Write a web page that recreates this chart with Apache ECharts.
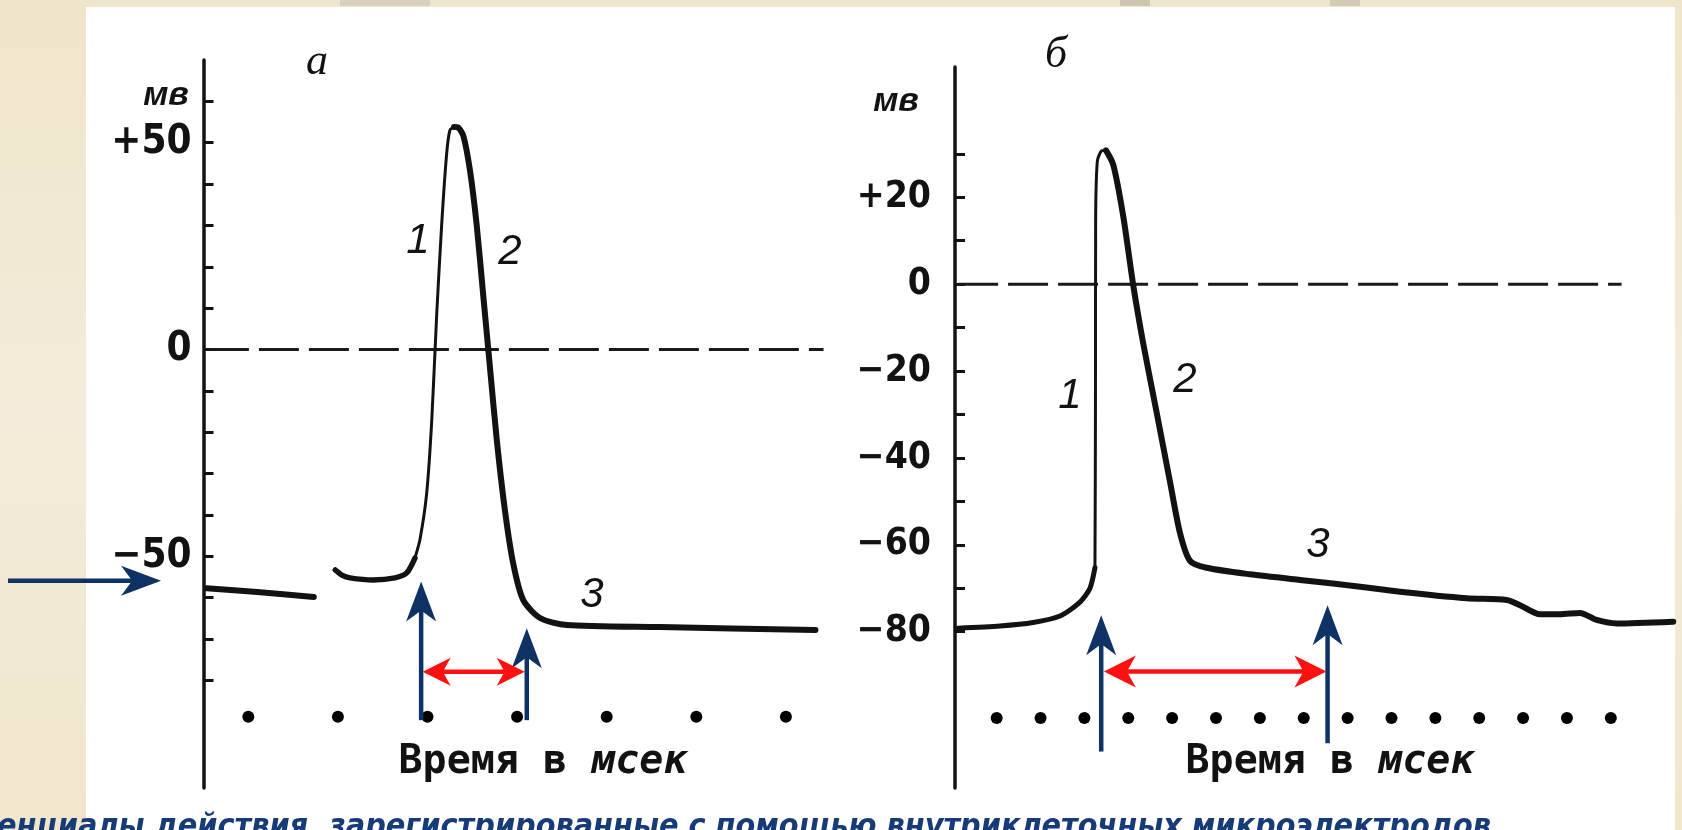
<!DOCTYPE html>
<html><head><meta charset="utf-8">
<script src="https://cdn.jsdelivr.net/npm/echarts@6/dist/echarts.min.js"></script>
<style>html,body{margin:0;padding:0;background:#efe6cd;}#c{width:1682px;height:830px;}</style>
</head><body><div id="c"></div>
<script>
// ---------- data (time in ms-dot units, voltage in mV) ----------
const ticksA = [60, 50, 40, 30, 20, 10, 0, -10, -20, -30, -40, -50, -60, -70, -80];
const labelsA = [50, 0, -50];
const ticksB = [30, 20, 10, 0, -10, -20, -30, -40, -50, -60, -70, -80];
const labelsB = [20, 0, -20, -40, -60, -80];

const zeroA = [[0.06, 0], [6.92, 0]];
const zeroB = [[0.12, 0], [15.245, 0]];

// panel a
const restA = [[0.033, -57.7], [0.6, -58.6], [1.231, -59.8]];
const baseA = [[1.471, -53.3], [1.55, -54.6], [1.635, -55.2], [1.892, -55.7], [2.137, -55.2], [2.268, -54.0], [2.360, -50.4]];
const riseA = [[2.360, -50.4], [2.417, -45.8], [2.491, -34.7], [2.547, -17.3], [2.603, 8.6], [2.658, 30.1], [2.714, 47.4], [2.751, 53.1], [2.796, 53.8]];
const fallA = [[2.796, 53.8], [2.840, 53.7], [2.900, 51.7], [2.975, 43.2], [3.049, 30.1], [3.123, 12.9], [3.198, -4.5], [3.272, -21.6], [3.365, -39.0], [3.458, -51.9], [3.569, -60.6], [3.756, -64.9], [4.054, -66.6], [5.095, -67.1], [6.830, -67.8]];
const dotsA = [[0.5, -88.8], [1.5, -88.8], [2.5, -88.8], [3.5, -88.8], [4.5, -88.8], [5.5, -88.8], [6.5, -88.8]];
const blueArrowsA = [[-2.182, -55.9, -0.474, -55.9], [2.429, -89.6, 2.429, -56.1], [3.608, -89.6, 3.608, -67.4]];
const redArrowsA = [[2.446, -77.9, 3.585, -77.9]];

// panel b
const baseB = [[0.118, -79.2], [1.076, -78.7], [1.828, -77.9], [2.443, -76.4], [2.899, -73.2], [3.127, -70.0], [3.240, -65.3]];
const riseB = [[3.240, -65.3], [3.248, -45.1], [3.252, -25.6], [3.256, 14.1], [3.294, 28.3], [3.394, 30.7], [3.492, 30.8]];
const fallB = [[3.492, 30.8], [3.658, 27.5], [3.886, 15.6], [4.114, -0.3], [4.342, -13.7], [4.648, -29.6], [4.951, -45.5], [5.179, -57.3], [5.407, -63.7], [5.787, -65.3], [6.774, -66.8], [7.914, -68.1], [8.666, -68.9], [10.194, -70.8], [11.714, -72.3], [12.626, -72.7], [12.929, -73.9], [13.385, -76.0], [13.841, -76.0], [14.297, -75.7], [14.677, -77.3], [15.133, -78.1], [16.423, -77.7]];
const dotsB = [[1, -99.9], [2, -99.9], [3, -99.9], [4, -99.9], [5, -99.9], [6, -99.9], [7, -99.9], [8, -99.9], [9, -99.9], [10, -99.9], [11, -99.9], [12, -99.9], [13, -99.9], [14, -99.9], [15, -99.9]];
const blueArrowsB = [[3.383, -107.6, 3.383, -76.2], [8.543, -105.7, 8.543, -73.9]];
const redArrowsB = [[3.444, -89.2, 8.518, -89.2]];

const caption = 'Потенциалы действия, зарегистрированные с помощью внутриклеточных микроэлектродов';

// ---------- styling ----------
const INK = '#121212';
const NAVY = '#0f3265';
const RED = '#ff1010';

function fmt(v) {
  if (v > 0) return '+' + v;
  if (v < 0) return '\u2212' + Math.abs(v);
  return '0';
}
function yAxisCfg(gridIndex, min, max, ticks, labels, fontSize, margin) {
  return {
    type: 'value', gridIndex, min, max,
    axisLine: { show: true, onZero: false, lineStyle: { color: INK, width: 3.5 } },
    axisTick: { show: true, inside: true, length: 10, customValues: ticks, lineStyle: { color: INK, width: 3 } },
    axisLabel: { show: true, customValues: labels, margin, formatter: fmt, color: INK, fontFamily: 'DejaVu Sans Condensed', fontWeight: 'bold', fontSize },
    splitLine: { show: false }
  };
}
function lineS(idx, data, width) {
  return { type: 'line', xAxisIndex: idx, yAxisIndex: idx, data, symbol: 'none', smooth: 0.25,
    lineStyle: { color: INK, width, cap: 'round', join: 'round' }, z: 3, silent: true };
}
function dashS(idx, data) {
  return { type: 'line', xAxisIndex: idx, yAxisIndex: idx, data, symbol: 'none',
    lineStyle: { color: '#1a1a1a', width: 3, type: [40, 10] }, z: 2, silent: true };
}
function dotS(idx, data) {
  return { type: 'scatter', xAxisIndex: idx, yAxisIndex: idx, data, symbol: 'circle', symbolSize: 12,
    itemStyle: { color: '#000000', opacity: 1 }, z: 3, silent: true };
}
function arrowRender(color, lineW, headL, headW, both) {
  return function (params, api) {
    const a = api.coord([api.value(0), api.value(1)]);
    const b = api.coord([api.value(2), api.value(3)]);
    const dx = b[0] - a[0], dy = b[1] - a[1];
    const len = Math.hypot(dx, dy) || 1;
    const ux = dx / len, uy = dy / len, nx = -uy, ny = ux;
    function head(tip, sx, sy) {
      const bx = tip[0] - sx * headL, by = tip[1] - sy * headL;
      const mx = tip[0] - sx * headL * 0.72, my = tip[1] - sy * headL * 0.72;
      return { type: 'polygon', shape: { points: [tip, [bx + nx * headW / 2, by + ny * headW / 2], [mx, my], [bx - nx * headW / 2, by - ny * headW / 2]] }, style: { fill: color } };
    }
    const s = both ? [a[0] + ux * headL * 0.7, a[1] + uy * headL * 0.7] : a;
    const e = [b[0] - ux * headL * 0.7, b[1] - uy * headL * 0.7];
    const children = [{ type: 'line', shape: { x1: s[0], y1: s[1], x2: e[0], y2: e[1] }, style: { stroke: color, lineWidth: lineW } }, head(b, ux, uy)];
    if (both) children.push(head(a, -ux, -uy));
    return { type: 'group', children };
  };
}
function arrowS(idx, data, render) {
  return { type: 'custom', xAxisIndex: idx, yAxisIndex: idx, data, renderItem: render,
    encode: { x: [0, 2], y: [1, 3] }, clip: false, z: 10, silent: true };
}
function txt(x, y, text, font, extra) {
  return Object.assign({ type: 'text', x, y, z: 5, silent: true,
    style: Object.assign({ text, font, fill: INK, textAlign: 'center', textVerticalAlign: 'middle', align: 'center', verticalAlign: 'middle' }, extra || {}) });
}
function timeText(x, y) {
  return { type: 'text', x, y, z: 5, silent: true,
    style: { text: '{u|Время в }{i|мсек}', textAlign: 'center', textVerticalAlign: 'middle', align: 'center', verticalAlign: 'middle',
      rich: { u: { font: 'bold 40px "DejaVu Sans Mono"', fill: INK }, i: { font: 'italic bold 40px "DejaVu Sans Mono"', fill: INK } } } };
}

const chart = echarts.init(document.getElementById('c'), null, { renderer: 'canvas' });
chart.setOption({
  animation: false,
  backgroundColor: new echarts.graphic.LinearGradient(0, 0, 0, 1, [{ offset: 0, color: '#efe5ca' }, { offset: 0.5, color: '#f3ecda' }, { offset: 1, color: '#f0e6cc' }]),
  grid: [
    { left: 203.5, top: 60, width: 627.2, height: 728 },
    { left: 955, top: 67, width: 719, height: 721 }
  ],
  xAxis: [
    { type: 'value', gridIndex: 0, min: 0, max: 7, show: false },
    { type: 'value', gridIndex: 1, min: 0.05, max: 16.44, show: false }
  ],
  yAxis: [
    yAxisCfg(0, -106, 70, ticksA, labelsA, 40, 12),
    yAxisCfg(1, -116, 50, ticksB, labelsB, 37, 24)
  ],
  graphic: [
    { type: 'rect', z: -10, silent: true, shape: { x: 86, y: 7, width: 1589, height: 823 }, style: { fill: '#ffffff' } },
    { type: 'rect', z: -9, silent: true, shape: { x: 340, y: 0, width: 90, height: 6 }, style: { fill: '#d9d1bd' } },
    { type: 'rect', z: -9, silent: true, shape: { x: 1120, y: 0, width: 30, height: 6 }, style: { fill: '#cfc6b0' } },
    { type: 'rect', z: -9, silent: true, shape: { x: 1330, y: 0, width: 30, height: 6 }, style: { fill: '#d4cbb5' } },
    txt(317, 62, 'а', 'italic 44px "Liberation Serif"'),
    txt(1056, 55, 'б', 'italic 44px "Liberation Serif"'),
    txt(166, 96, 'мв', 'italic bold 34px "Liberation Sans"'),
    txt(896, 102, 'мв', 'italic bold 34px "Liberation Sans"'),
    txt(418, 241, '1', 'italic 42px "Liberation Sans"'),
    txt(510, 252, '2', 'italic 42px "Liberation Sans"'),
    txt(592, 595, '3', 'italic 42px "Liberation Sans"'),
    txt(1070, 396, '1', 'italic 42px "Liberation Sans"'),
    txt(1185, 380, '2', 'italic 42px "Liberation Sans"'),
    txt(1318, 545, '3', 'italic 42px "Liberation Sans"'),
    timeText(543, 763),
    timeText(1330, 763),
    txt(1491, 844, caption, 'italic bold 32px "DejaVu Sans Condensed"', { fill: '#173b77', textAlign: 'right', align: 'right', textVerticalAlign: 'bottom', verticalAlign: 'bottom' })
  ],
  series: [
    dashS(0, zeroA),
    lineS(0, restA, 6),
    lineS(0, baseA, 5.5),
    lineS(0, riseA, 3),
    lineS(0, fallA, 6),
    dotS(0, dotsA),
    arrowS(0, blueArrowsA, arrowRender(NAVY, 4.5, 40, 30, false)),
    arrowS(0, redArrowsA, arrowRender(RED, 4.5, 28, 28, true)),
    dashS(1, zeroB),
    lineS(1, baseB, 5),
    lineS(1, riseB, 3),
    lineS(1, fallB, 6),
    dotS(1, dotsB),
    arrowS(1, blueArrowsB, arrowRender(NAVY, 4.5, 40, 30, false)),
    arrowS(1, redArrowsB, arrowRender(RED, 4.5, 32, 32, true))
  ]
});
</script>
</body></html>
